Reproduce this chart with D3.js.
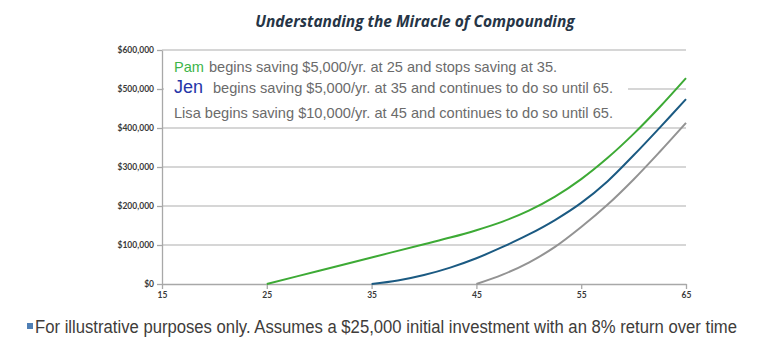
<!DOCTYPE html>
<html>
<head>
<meta charset="utf-8">
<script src="https://cdn.jsdelivr.net/npm/d3@7"></script>
<style>
  body { margin: 0; background: #fff; }
  svg { display: block; }
</style>
</head>
<body>
<svg id="chart" width="780" height="340"></svg>
<script>
// Account balances by age for each saver
const pamAges = [25, 30, 35, 40, 42.5, 45, 47.5, 50, 52.5, 55, 57.5, 60, 62.5, 65];
const pamValues = [0, 34000, 68000, 102000, 119000, 138000, 160000, 188000, 224000, 269000, 323000, 385000, 454000, 528000];
const jenAges = [35, 37.5, 40, 42.5, 45, 47.5, 50, 52.5, 55, 57.5, 60, 62.5, 65];
const jenValues = [0, 9000, 23000, 42000, 66000, 95000, 127000, 164000, 208000, 263000, 330000, 401000, 474000];
const lisaAges = [45, 47.5, 50, 52.5, 55, 57.5, 60, 62.5, 65];
const lisaValues = [0, 24000, 55000, 95000, 146000, 203000, 268000, 339000, 413000];

const seriesNames = ["Pam", "Jen", "Lisa"];
const seriesColors = ["#3daa35", "#1b5a82", "#939393"];
const legendNameColors = ["#3cb54a", "#2536a8", "#6b6b6b"];
const legendTexts = [
  "begins saving $5,000/yr. at 25 and stops saving at 35.",
  "begins saving $5,000/yr. at 35 and continues to do so until 65.",
  "begins saving $10,000/yr. at 45 and continues to do so until 65."
];

const xTicks = [15, 25, 35, 45, 55, 65];
const yTicks = [0, 100000, 200000, 300000, 400000, 500000, 600000];

const titleText = "Understanding the Miracle of Compounding";
const footnoteText = "For illustrative purposes only.  Assumes a $25,000 initial investment with an 8% return over time";

const series = [
  { name: seriesNames[0], points: pamAges.map((a, i) => [a, pamValues[i]]) },
  { name: seriesNames[1], points: jenAges.map((a, i) => [a, jenValues[i]]) },
  { name: seriesNames[2], points: lisaAges.map((a, i) => [a, lisaValues[i]]) }
];

const svg = d3.select("#chart");

const x = d3.scaleLinear().domain([15, 65]).range([162, 686]);
const y = d3.scaleLinear().domain([0, 600000]).range([284, 50]);

// Title
svg.append("text")
  .attr("x", 415).attr("y", 26.5)
  .attr("text-anchor", "middle")
  .attr("font-family", "'Open Sans', Lato, sans-serif")
  .attr("font-weight", "bold")
  .attr("font-style", "italic")
  .attr("font-size", 15.5)
  .attr("fill", "#263546")
  .text(titleText);

// Horizontal gridlines
svg.append("g").selectAll("line")
  .data(yTicks.filter(d => d > 0))
  .join("line")
  .attr("x1", x(15)).attr("x2", x(65))
  .attr("y1", d => y(d)).attr("y2", d => y(d))
  .attr("stroke", "#c8c8c8")
  .attr("stroke-width", 1.3);

// Legend panel (white backing hides the gridline behind it)
const legend = svg.append("g");
legend.append("rect")
  .attr("x", 164).attr("y", 53)
  .attr("width", 464).attr("height", 71)
  .attr("fill", "#fff");

const legendRows = [
  { y: 72, nameSize: 14.6, restX: 209 },
  { y: 93, nameSize: 18, restX: 213 },
  { y: 118, nameSize: 14.6, restX: null }
];
legendRows.forEach((row, i) => {
  const t = legend.append("text")
    .attr("x", 174).attr("y", row.y)
    .attr("font-family", "'Liberation Sans', Arial, sans-serif")
    .attr("font-size", 14.6)
    .attr("fill", "#6b6b6b");
  t.append("tspan")
    .attr("font-size", row.nameSize)
    .attr("fill", legendNameColors[i])
    .text(seriesNames[i]);
  const rest = t.append("tspan").text(" " + legendTexts[i]);
  if (row.restX !== null) rest.attr("x", row.restX).text(legendTexts[i]);
});

// Axes
const yAxis = svg.append("g")
  .attr("transform", `translate(${x(15)},0)`)
  .call(d3.axisLeft(y)
    .tickValues(yTicks)
    .tickFormat(d => "$" + d3.format(",")(d))
    .tickSize(5).tickSizeOuter(0).tickPadding(3));
const xAxis = svg.append("g")
  .attr("transform", `translate(0,${y(0)})`)
  .call(d3.axisBottom(x)
    .tickValues(xTicks)
    .tickSize(5).tickSizeOuter(0).tickPadding(3));

[yAxis, xAxis].forEach(g => {
  g.select(".domain").attr("stroke", "#a8a8a8").attr("stroke-width", 1.3);
  g.selectAll(".tick line").attr("stroke", "#a8a8a8").attr("stroke-width", 1.3);
  g.selectAll(".tick text")
    .attr("font-family", "Lato, 'Open Sans', sans-serif")
    .attr("font-weight", "bold")
    .attr("font-size", 8.5)
    .attr("fill", "#3a3a3a");
});

// Balance lines, smoothed
const line = d3.line()
  .x(d => x(d[0]))
  .y(d => y(d[1]))
  .curve(d3.curveCatmullRom.alpha(0.5));

svg.append("g").selectAll("path")
  .data(series)
  .join("path")
  .attr("d", d => line(d.points))
  .attr("fill", "none")
  .attr("stroke", (d, i) => seriesColors[i])
  .attr("stroke-width", 2);

// Footnote
svg.append("rect")
  .attr("x", 27).attr("y", 323)
  .attr("width", 6).attr("height", 6)
  .attr("fill", "#4f7fb5");
svg.append("text")
  .attr("x", 35).attr("y", 333)
  .attr("font-family", "'Liberation Sans Narrow', 'Liberation Sans', Arial, sans-serif")
  .attr("font-size", 17.5)
  .attr("fill", "#403c3a")
  .attr("textLength", 702)
  .attr("lengthAdjust", "spacingAndGlyphs")
  .text(footnoteText);
</script>
</body>
</html>
